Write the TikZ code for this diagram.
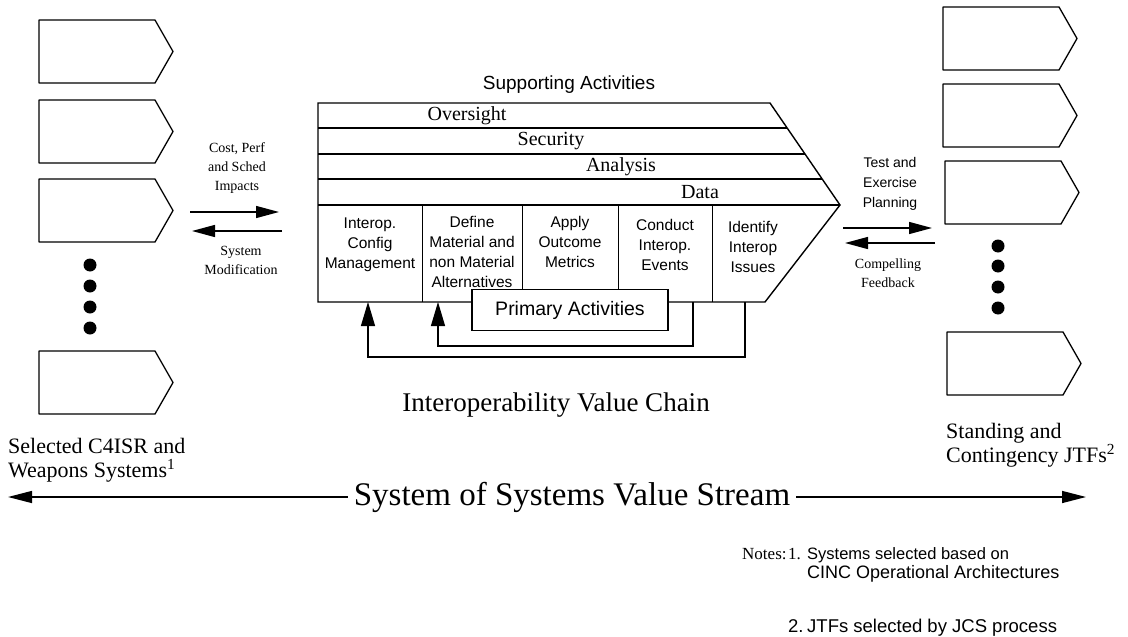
\documentclass[tikz,border=0pt]{standalone}
\usepackage{fontspec}
\setmainfont{Liberation Serif}
\setsansfont{Liberation Sans}
\usetikzlibrary{arrows.meta}

\tikzset{
  sysbox/.style={draw, line width=1.3pt, line join=round},
  chain/.style={draw, line width=1.4pt},
  cell/.style={font=\sffamily\fontsize{15.5}{20}\selectfont, align=center, inner sep=0pt},
  band/.style={font=\fontsize{20}{24}\selectfont, inner sep=0pt},
  small/.style={font=\fontsize{14}{19}\selectfont, align=center, inner sep=0pt},
  endlabel/.style={anchor=west, align=left, inner sep=0pt, font=\fontsize{22}{24}\selectfont},
  note/.style={anchor=base west, inner sep=0pt},
  flow/.style={line width=1.4pt, -{Triangle[length=23pt,width=12pt]}},
  fbloop/.style={line width=1.2pt, -{Triangle[length=24pt,width=14pt]}},
  stream/.style={line width=1.4pt, -{Triangle[length=24pt,width=12pt]}},
}

% pentagon system box: #1 = left x, #2 = top y
\newcommand{\sysarrow}[2]{%
  \draw[sysbox] (#1,#2) -- ++(116,0) -- ++(18,31.5) -- ++(-18,31.5) -- ++(-116,0) -- cycle;}

\begin{document}
\begin{tikzpicture}[x=1pt, y=-1pt]
    \useasboundingbox (0,0) rectangle (1128,637);

    % Systems on the left and the JTFs on the right
    \foreach \yy in {20,100,179,351} {\sysarrow{39}{\yy}}
    \foreach \yy in {265,286,307,328} {\fill (90,\yy) circle[radius=6.5pt];}
    \foreach \yy/\xx in {7/943,84/943,161/945,332/947} {\sysarrow{\xx}{\yy}}
    \foreach \yy in {246,266,287,308} {\fill (998,\yy) circle[radius=6.5pt];}

    % Value chain outline
    \draw[chain] (318,103) -- (770,103) -- (840,205) -- (765,302) -- (318,302) -- cycle;
    \foreach \yy/\xx in {128/787, 154/805, 179/822} \draw[line width=1.2pt] (318,\yy) -- (\xx,\yy);
    \draw[line width=1.2pt] (318,205) -- (840,205);
    \foreach \xx in {422,522,618,712} \draw[line width=1pt] (\xx,205) -- (\xx,302);

    % Supporting activities
    \node[font=\sffamily\fontsize{19}{23}\selectfont] (supp) at (569,85) {Supporting Activities};
    \node[band] (oversight) at (467,116) {Oversight};
    \node[band] (security) at (551,141) {Security};
    \node[band] (analysis) at (621,167) {Analysis};
    \node[band] (data) at (700,192) {Data};

    % Primary activities
    \node[cell] (c1) at (370,245) {Interop.\\Config\\Management};
    \node[cell] (c2) at (472,252) {Define\\Material and\\non Material\\Alternatives};
    \node[cell] (c3) at (570,242) {Apply\\Outcome\\Metrics};
    \node[cell] (c4) at (665,245) {Conduct\\Interop.\\Events};
    \node[cell] (c5) at (753,247) {Identify\\Interop\\Issues};

    % Feedback loops
    \coordinate (issOut) at (745,302);
    \coordinate (cfgIn) at (368,302);
    \coordinate (evtOut) at (693,302);
    \coordinate (altIn) at (438,302);
    \draw[fbloop] (issOut) |- (368,357) -- (cfgIn);
    \draw[fbloop] (evtOut) |- (438,346) -- (altIn);

    \node[draw, fill=white, line width=1.2pt, minimum width=196pt, minimum height=41pt,
          font=\sffamily\fontsize{19.5}{23}\selectfont] (primary) at (570,310) {Primary Activities};

    \node[font=\fontsize{27}{31}\selectfont] (ivc) at (556,405) {Interoperability Value Chain};

    % Flows between the systems and the chain
    \coordinate (costA) at (190,212);
    \coordinate (costB) at (279,212);
    \coordinate (modA) at (282,231);
    \coordinate (modB) at (192,231);
    \draw[flow] (costA) -- (costB);
    \draw[flow] (modA) -- (modB);
    \node[small] (cost) at (237,168) {Cost, Perf\\and Sched\\Impacts};
    \node[small] (mod) at (241,260) {System\\Modification};

    \coordinate (testA) at (843,228);
    \coordinate (testB) at (932,228);
    \coordinate (fbA) at (935,243);
    \coordinate (fbB) at (845,243);
    \draw[flow] (testA) -- (testB);
    \draw[flow] (fbA) -- (fbB);
    \node[small, font=\sffamily\fontsize{14}{20}\selectfont] (test) at (890,184) {Test and\\Exercise\\Planning};
    \node[small] (feedback) at (888,273) {Compelling\\Feedback};

    % Labels of the two ends
    \node[endlabel] (selected) at (8,460) {Selected C4ISR and\\Weapons Systems\textsuperscript{1}};
    \node[endlabel] (standing) at (946,445) {Standing and\\Contingency JTFs\textsuperscript{2}};

    % Value stream
    \node[font=\fontsize{33}{36}\selectfont, inner sep=6pt] (sos) at (572,497) {System of Systems Value Stream};
    \coordinate (sosL) at (8,497);
    \coordinate (sosR) at (1086,497);
    \draw[stream] (sos.west) -- (sosL);
    \draw[stream] (sos.east) -- (sosR);

    % Notes
    \node[note, font=\fontsize{17}{20}\selectfont] (notes) at (742,559) {Notes:};
    \node[note, font=\fontsize{17}{20}\selectfont] (n1) at (788,559) {1.};
    \node[note, font=\sffamily\fontsize{16.5}{20}\selectfont] (n1a) at (807,559) {Systems selected based on};
    \node[note, font=\sffamily\fontsize{18}{20}\selectfont] (n1b) at (807,578) {CINC Operational Architectures};
    \node[note, font=\sffamily\fontsize{18.5}{20}\selectfont] (n2) at (788,632) {2.};
    \node[note, font=\sffamily\fontsize{18.5}{20}\selectfont] (n2a) at (807,632) {JTFs selected by JCS process};
\end{tikzpicture}
\end{document}
